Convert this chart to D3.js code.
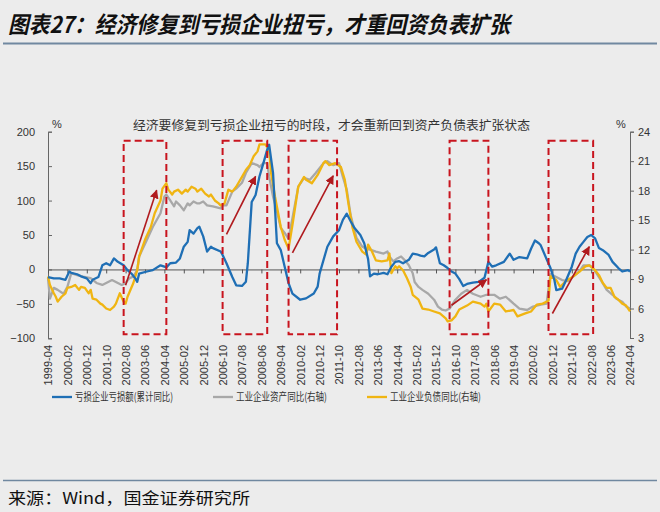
<!DOCTYPE html>
<html><head><meta charset="utf-8">
<script src="https://cdn.jsdelivr.net/npm/d3@7"></script>
<style>
html,body{margin:0;padding:0;background:#ececec;}
svg{display:block;}
</style></head><body>
<svg id="chart" width="660" height="512"></svg>
<script>
// ---------- DATA ----------
const tickLabels = ["1999-04","2000-02","2000-12","2001-10","2002-08","2003-06","2004-04","2005-02","2005-12","2006-10","2007-08","2008-06","2009-04","2010-02","2010-12","2011-10","2012-08","2013-06","2014-04","2015-02","2015-12","2016-10","2017-08","2018-06","2019-04","2020-02","2020-12","2021-10","2022-08","2023-06","2024-04"];
const leftTicks = [-100,-50,0,50,100,150,200];
const rightTicks = [3,6,9,12,15,18,21,24];

// 亏损企业亏损额(累计同比), left axis %
const lossData = [["1999-04",-11],["1999-07",-13],["1999-10",-13],["2000-01",-15],["2000-03",-3],["2000-04",-5],["2000-07",-7],["2000-09",-10],["2000-12",-13],["2001-02",-20],["2001-03",-15],["2001-06",-11],["2001-08",6],["2001-10",9],["2001-12",6],["2002-02",16],["2002-04",11],["2002-07",6],["2002-09",-1],["2002-11",-6],["2003-01",-13],["2003-02",-18],["2003-03",-6],["2003-07",-3],["2003-10",-1],["2004-02",6],["2004-04",4],["2004-05",3],["2004-07",9],["2004-10",10],["2004-12",16],["2005-02",33],["2005-04",40],["2005-05",57],["2005-07",52],["2005-09",60],["2005-10",62],["2005-12",48],["2006-02",26],["2006-04",33],["2006-05",31],["2006-09",26],["2006-10",21],["2006-12",9],["2007-03",-11],["2007-05",-23],["2007-08",-24],["2007-10",-18],["2007-11",9],["2008-01",98],["2008-03",108],["2008-05",135],["2008-07",154],["2008-09",174],["2008-10",181],["2008-12",140],["2009-02",38],["2009-04",28],["2009-06",4],["2009-08",-20],["2009-10",-35],["2010-02",-44],["2010-05",-42],["2010-09",-35],["2010-11",-25],["2010-12",-6],["2011-04",33],["2011-07",48],["2011-10",57],["2011-12",72],["2012-02",81],["2012-04",70],["2012-06",60],["2012-09",50],["2012-11",38],["2013-01",15],["2013-02",-10],["2013-04",-6],["2013-06",-7],["2013-09",-5],["2013-11",-7],["2014-01",4],["2014-03",11],["2014-05",12],["2014-07",9],["2014-10",14],["2014-12",23],["2015-02",22],["2015-04",20],["2015-06",19],["2015-08",24],["2015-11",29],["2015-12",32],["2016-02",9],["2016-04",6],["2016-06",2],["2016-08",-3],["2016-10",-6],["2016-12",-14],["2017-02",-24],["2017-04",-21],["2017-07",-19],["2017-10",-18],["2018-01",-12],["2018-03",11],["2018-05",4],["2018-07",6],["2018-11",11],["2019-02",23],["2019-04",14],["2019-07",18],["2019-11",16],["2020-01",30],["2020-03",42],["2020-05",38],["2020-06",35],["2020-09",15],["2020-11",2],["2021-01",-15],["2021-02",-30],["2021-05",-28],["2021-07",-16],["2021-10",4],["2021-12",23],["2022-02",33],["2022-04",40],["2022-06",47],["2022-08",50],["2022-10",45],["2022-12",31],["2023-02",28],["2023-05",21],["2023-07",11],["2023-10",2],["2023-12",-3],["2024-03",-1],["2024-04",-3]];

// 工业企业资产同比(右轴)
const assetData = [["1999-04",9.1],["1999-05",7.0],["1999-07",8.1],["1999-09",7.9],["1999-12",7.5],["2000-02",8.2],["2000-04",9.6],["2000-07",9.4],["2000-10",9.25],["2001-02",9.1],["2001-05",8.6],["2001-08",8.4],["2001-10",8.6],["2002-01",8.9],["2002-03",8.7],["2002-06",8.4],["2002-08",8.6],["2002-10",9.1],["2002-12",9.25],["2003-02",9.9],["2003-03",11.3],["2003-07",13],["2003-10",14.3],["2004-02",15.7],["2004-04",17.4],["2004-05",17.6],["2004-07",17],["2004-09",16.4],["2004-10",16.9],["2004-12",16.5],["2005-02",16],["2005-04",16.7],["2005-05",16.5],["2005-07",16.9],["2005-09",16.7],["2005-10",16.7],["2005-12",16.9],["2006-02",16.5],["2006-05",16.4],["2006-09",16.2],["2006-10",16.5],["2006-12",16.5],["2007-03",17.9],["2007-05",18.2],["2007-08",18.8],["2007-10",19.8],["2008-01",20.8],["2008-04",20.6],["2008-05",20.4],["2008-07",20.8],["2008-09",20.8],["2008-10",19.4],["2008-12",17.4],["2009-02",15.9],["2009-04",14.2],["2009-06",13.7],["2009-08",13.1],["2009-10",15.2],["2010-01",18.4],["2010-04",19.3],["2010-07",19.1],["2010-10",19.8],["2011-02",20.8],["2011-04",21],["2011-07",20.6],["2011-10",20.8],["2011-12",19.4],["2012-02",18.1],["2012-04",15.5],["2012-07",13.2],["2012-10",12.3],["2012-12",12.1],["2013-02",12],["2013-05",11.8],["2013-09",11.6],["2013-11",11.8],["2013-12",11.3],["2014-02",10.8],["2014-04",11.1],["2014-06",11.3],["2014-08",10.9],["2014-10",10.4],["2014-12",9.6],["2015-01",8.7],["2015-03",8.2],["2015-05",7.9],["2015-08",7.5],["2015-11",6.9],["2016-01",6.2],["2016-03",5.9],["2016-05",5.8],["2016-07",6],["2016-10",6.9],["2017-01",7.5],["2017-04",7.9],["2017-07",7.5],["2017-11",7.2],["2018-02",7.4],["2018-06",7.4],["2018-09",7],["2018-12",7.2],["2019-04",6.5],["2019-07",6],["2019-11",5.85],["2020-02",6.2],["2020-06",6.4],["2020-09",6.5],["2020-11",9.5],["2021-02",9.2],["2021-05",8.9],["2021-08",8.8],["2021-11",9.3],["2022-02",9.8],["2022-04",10.4],["2022-07",10.4],["2022-08",10.3],["2022-10",9.8],["2023-01",8.9],["2023-04",7.9],["2023-07",7.4],["2023-09",7],["2023-12",6.7],["2024-02",6.2],["2024-04",6]];

// 工业企业负债同比(右轴)
const debtData = [["1999-04",9.25],["1999-05",8.4],["1999-07",7.55],["1999-08",7.2],["1999-09",6.7],["1999-11",7.2],["2000-01",7.55],["2000-02",8.1],["2000-04",8.2],["2000-06",8.4],["2000-08",7.9],["2000-09",8.2],["2000-11",8.1],["2001-01",7.55],["2001-02",7.9],["2001-03",7.0],["2001-05",6.9],["2001-07",6.5],["2001-08",6.4],["2001-10",6.0],["2001-12",5.85],["2002-02",6.2],["2002-03",6.5],["2002-05",7.55],["2002-07",6.7],["2002-08",6.5],["2002-09",7.2],["2002-12",8.6],["2003-02",9.9],["2003-03",11.3],["2003-06",13],["2003-09",14.3],["2003-11",15.7],["2004-02",17],["2004-03",18.2],["2004-05",18.75],["2004-06",18.1],["2004-08",17.6],["2004-09",17.9],["2004-11",18.1],["2005-01",17.7],["2005-03",18.1],["2005-04",17.9],["2005-06",18.4],["2005-08",18.2],["2005-09",17.9],["2005-11",18.2],["2006-01",17.7],["2006-03",17.4],["2006-04",17.6],["2006-06",17],["2006-08",16.7],["2006-09",16.5],["2006-11",16.7],["2007-01",18.1],["2007-03",17.9],["2007-05",18.4],["2007-08",19.4],["2007-10",20.1],["2007-12",20.6],["2008-02",21.5],["2008-04",22],["2008-05",22.7],["2008-08",22.7],["2008-10",22.1],["2008-11",19.8],["2009-01",17.4],["2009-04",14.3],["2009-06",13],["2009-08",12.1],["2009-10",14.5],["2010-01",18.4],["2010-04",19.4],["2010-05",19.1],["2010-08",18.75],["2010-11",19.6],["2011-02",20.8],["2011-03",21],["2011-05",20.6],["2011-08",20.8],["2011-11",20.4],["2012-01",19.1],["2012-03",16.5],["2012-05",14.2],["2012-07",12.8],["2012-10",11.8],["2012-12",11.5],["2013-01",12.5],["2013-03",11.8],["2013-05",10.9],["2013-08",10.8],["2013-11",10.9],["2013-12",11.6],["2014-01",9.6],["2014-03",10.3],["2014-04",10.1],["2014-05",10.3],["2014-07",9.9],["2014-09",9.1],["2014-11",8.2],["2014-12",7.4],["2015-03",6.9],["2015-05",6.0],["2015-08",5.9],["2015-11",5.7],["2016-02",5.5],["2016-05",5.0],["2016-06",4.7],["2016-08",4.8],["2016-10",5.2],["2016-12",5.9],["2017-04",6.3],["2017-07",6.7],["2017-11",6.5],["2018-01",6.2],["2018-02",6.5],["2018-03",5.7],["2018-06",6.5],["2018-09",6.4],["2018-12",5.7],["2019-04",5.85],["2019-06",5.2],["2019-10",5.5],["2020-01",5.7],["2020-04",6.4],["2020-07",6.5],["2020-10",6.8],["2020-11",9.3],["2021-02",8.9],["2021-04",8.2],["2021-07",8.8],["2021-11",9.3],["2022-02",9.75],["2022-05",10.3],["2022-07",10.4],["2022-10",9.9],["2022-12",9.4],["2023-02",8.6],["2023-04",8.1],["2023-06",8.1],["2023-08",7.2],["2023-10",6.9],["2023-12",6.5],["2024-02",6.3],["2024-04",5.7]];

// annotation boxes (start, end month) and arrows ([month, left value] -> [month, left value])
const boxStarts = ["2002-07","2006-10","2009-08","2016-07","2020-10"];
const boxEnds   = ["2004-05","2008-09","2011-09","2018-03","2022-09"];
const boxRange  = [-94, 187];
const arrowFrom = [["2002-08",-23],["2006-12",51],["2009-10",24],["2016-08",-52],["2020-12",-64]];
const arrowTo   = [["2003-12",115],["2008-03",135],["2011-07",136],["2018-02",-15],["2022-07",33]];

const seriesNames = ["亏损企业亏损额(累计同比)","工业企业资产同比(右轴)","工业企业负债同比(右轴)"];

// ---------- CHART ----------
const svg = d3.select("#chart");
const CJK = "'Noto Sans CJK SC','Noto Sans',sans-serif";
const LAT = "'Liberation Sans',Arial,sans-serif";
const mi = s => { const [y,m] = s.split("-").map(Number); return (y-1999)*12 + (m-4); };

const x = d3.scaleLinear().domain([0,300]).range([48,630]);
const yL = d3.scaleLinear().domain([-100,200]).range([338.3,131.7]);
const yR = d3.scaleLinear().domain([3,24]).range([338,131.7]);

svg.append("rect").attr("width",660).attr("height",512).attr("fill","#ececec");

// title
svg.append("text").attr("x",8).attr("y",33)
  .attr("font-family",CJK).attr("font-size",23).attr("font-weight","bold").attr("font-style","italic")
  .attr("fill","#111").attr("textLength",502).attr("lengthAdjust","spacingAndGlyphs")
  .text("图表27：经济修复到亏损企业扭亏，才重回资负表扩张");
svg.append("line").attr("x1",3).attr("x2",657).attr("y1",43.5).attr("y2",43.5).attr("stroke","#7088a0").attr("stroke-width",2);

// footer
svg.append("line").attr("x1",3).attr("x2",657).attr("y1",480.5).attr("y2",480.5).attr("stroke","#7088a0").attr("stroke-width",1.5);
svg.append("text").attr("x",8).attr("y",504)
  .attr("font-family",CJK).attr("font-size",16).attr("fill","#111")
  .attr("textLength",242).attr("lengthAdjust","spacingAndGlyphs")
  .text("来源：Wind，国金证券研究所");

// subtitle
svg.append("text").attr("x",133).attr("y",129.5)
  .attr("font-family",CJK).attr("font-size",12.5).attr("fill","#333")
  .attr("textLength",397).attr("lengthAdjust","spacingAndGlyphs")
  .text("经济要修复到亏损企业扭亏的时段，才会重新回到资产负债表扩张状态");

// % units
svg.append("text").attr("x",52).attr("y",128).attr("font-family",LAT).attr("font-size",11).attr("fill","#333").text("%");
svg.append("text").attr("x",616).attr("y",128).attr("font-family",LAT).attr("font-size",11).attr("fill","#333").text("%");

// left axis
const gL = svg.append("g").attr("transform","translate(48,0)")
  .call(d3.axisLeft(yL).tickValues(leftTicks).tickSizeInner(-4).tickSizeOuter(-4).tickPadding(13));
// right axis
const gR = svg.append("g").attr("transform","translate(630,0)")
  .call(d3.axisRight(yR).tickValues(rightTicks).tickSizeInner(4).tickSizeOuter(4).tickPadding(4));
[gL,gR].forEach(g=>{
  g.selectAll("path,line").attr("stroke","#666");
  g.selectAll("text").attr("font-family",LAT).attr("font-size",11).attr("fill","#333");
});

// zero line with ticks
const gX = svg.append("g").attr("transform",`translate(0,${yL(0)})`)
  .call(d3.axisBottom(x).tickValues(d3.range(0,301,10)).tickSize(4).tickSizeOuter(0).tickFormat(""));
gX.selectAll("path,line").attr("stroke","#555");

// bottom labels
const gXL = svg.append("g").attr("transform","translate(0,338)")
  .call(d3.axisBottom(x).tickValues(tickLabels.map(mi)).tickSize(0).tickFormat((d,i)=>tickLabels[i]));
gXL.select(".domain").remove();
gXL.selectAll("text").attr("transform","rotate(-90)").attr("text-anchor","end")
  .attr("x",-7).attr("y",0).attr("dy","0.35em")
  .attr("font-family",LAT).attr("font-size",11).attr("fill","#333");

// lines
const lineL = d3.line().x(d=>x(mi(d[0]))).y(d=>yL(d[1]));
const lineR = d3.line().x(d=>x(mi(d[0]))).y(d=>yR(d[1]));
const colors = ["#1f6fb5","#a8a8a8","#f0b512"];
svg.append("path").datum(assetData).attr("d",lineR).attr("fill","none").attr("stroke",colors[1]).attr("stroke-width",2.3).attr("stroke-linejoin","round");
svg.append("path").datum(debtData).attr("d",lineR).attr("fill","none").attr("stroke",colors[2]).attr("stroke-width",2.3).attr("stroke-linejoin","round");
svg.append("path").datum(lossData).attr("d",lineL).attr("fill","none").attr("stroke",colors[0]).attr("stroke-width",2.3).attr("stroke-linejoin","round");

// red dashed boxes
boxStarts.forEach((s,i)=>{
  const x0 = x(mi(s)), x1 = x(mi(boxEnds[i]));
  svg.append("rect").attr("x",x0).attr("y",yL(boxRange[1])).attr("width",x1-x0).attr("height",yL(boxRange[0])-yL(boxRange[1]))
    .attr("fill","none").attr("stroke","#c8141e").attr("stroke-width",2).attr("stroke-dasharray","7,4");
});

// arrows
svg.append("defs").append("marker").attr("id","ah").attr("viewBox","0 0 10 10").attr("refX",9).attr("refY",5)
  .attr("markerWidth",9).attr("markerHeight",9).attr("markerUnits","userSpaceOnUse").attr("orient","auto")
  .append("path").attr("d","M0,0L10,5L0,10z").attr("fill","#b01a1e");
arrowFrom.forEach((f,i)=>{
  const t = arrowTo[i];
  svg.append("line").attr("x1",x(mi(f[0]))).attr("y1",yL(f[1])).attr("x2",x(mi(t[0]))).attr("y2",yL(t[1]))
    .attr("stroke","#b01a1e").attr("stroke-width",1.6).attr("marker-end","url(#ah)");
});

// legend
const legX = [52,213,367];
const legW = [98,91,91];
seriesNames.forEach((n,i)=>{
  svg.append("line").attr("x1",legX[i]).attr("x2",legX[i]+20).attr("y1",397).attr("y2",397).attr("stroke",colors[i]).attr("stroke-width",2.3);
  svg.append("text").attr("x",legX[i]+23).attr("y",401)
    .attr("font-family",CJK).attr("font-size",11).attr("fill","#333")
    .attr("textLength",legW[i]).attr("lengthAdjust","spacingAndGlyphs").text(n);
});
</script>
</body></html>
